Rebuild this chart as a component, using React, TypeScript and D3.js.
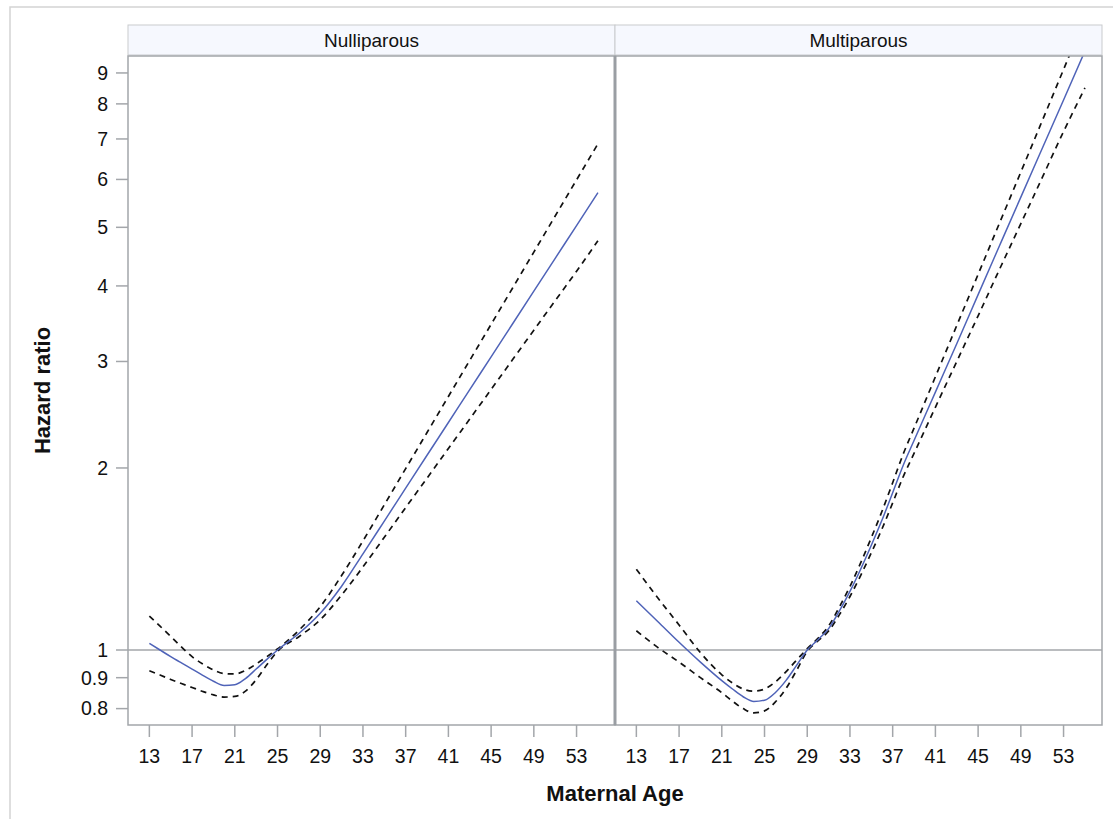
import React from 'react';
import * as d3 from 'd3';

// Nulliparous panel
const nulliAge = [13, 14, 15, 16, 17, 18, 19, 20, 21, 22, 23, 24, 25, 27, 29, 31, 33, 35, 37, 39, 41, 43, 45, 47, 49, 51, 53, 55];
const nulliHR = [1.026, 1.0, 0.975, 0.952, 0.93, 0.908, 0.888, 0.874, 0.876, 0.897, 0.93, 0.965, 1.0, 1.065, 1.15, 1.275, 1.442, 1.634, 1.852, 2.099, 2.378, 2.695, 3.053, 3.46, 3.921, 4.443, 5.034, 5.705];
const nulliUpper = [1.138, 1.095, 1.053, 1.012, 0.975, 0.948, 0.927, 0.914, 0.913, 0.925, 0.948, 0.975, 1.004, 1.078, 1.179, 1.328, 1.515, 1.738, 1.995, 2.289, 2.626, 3.013, 3.456, 3.965, 4.55, 5.22, 5.99, 6.87];
const nulliLower = [0.924, 0.909, 0.894, 0.88, 0.867, 0.854, 0.843, 0.836, 0.838, 0.855, 0.893, 0.945, 0.995, 1.052, 1.122, 1.233, 1.372, 1.536, 1.72, 1.924, 2.154, 2.41, 2.697, 3.019, 3.38, 3.781, 4.23, 4.75];

// Multiparous panel
const multiAge = [13, 15, 17, 19, 21, 22, 23, 24, 25, 26, 27, 28, 29, 30, 31, 32, 33, 34, 35, 36, 37, 38, 39, 41, 43, 45, 47, 49, 51, 53, 55];
const multiHR = [1.206, 1.115, 1.03, 0.955, 0.89, 0.862, 0.837, 0.822, 0.826, 0.85, 0.89, 0.943, 1.0, 1.04, 1.085, 1.16, 1.25, 1.36, 1.49, 1.64, 1.82, 2.023, 2.22, 2.67, 3.21, 3.87, 4.66, 5.61, 6.75, 8.12, 9.78];
const multiUpper = [1.36, 1.22, 1.1, 0.99, 0.91, 0.882, 0.862, 0.855, 0.862, 0.885, 0.92, 0.962, 1.005, 1.045, 1.096, 1.177, 1.274, 1.393, 1.534, 1.696, 1.891, 2.112, 2.327, 2.83, 3.44, 4.18, 5.08, 6.17, 7.5, 9.12, 11.1];
const multiLower = [1.076, 1.01, 0.955, 0.9, 0.85, 0.823, 0.8, 0.787, 0.793, 0.82, 0.863, 0.925, 0.995, 1.035, 1.075, 1.143, 1.226, 1.328, 1.448, 1.586, 1.751, 1.937, 2.114, 2.52, 3.0, 3.57, 4.26, 5.07, 6.04, 7.2, 8.5];

const xTicks = [13, 17, 21, 25, 29, 33, 37, 41, 45, 49, 53];
const yTicks = [0.8, 0.9, 1, 2, 3, 4, 5, 6, 7, 8, 9];
const panelNames = ['Nulliparous', 'Multiparous'];

const FONT = "'Liberation Sans', Arial, sans-serif";
const AXIS = '#a3a6aa';

const top = 56, bottom = 725, left = 128, panelW = 487;
const headerTop = 25;

export default function App() {
  const x = d3.scaleLinear().domain([11, 56.6]).range([0, panelW]);
  const y = d3.scaleLog().domain([0.7516, 9.6]).range([bottom, top]);

  const panels = [
    { name: panelNames[0], age: nulliAge, hr: nulliHR, lo: nulliLower, hi: nulliUpper },
    { name: panelNames[1], age: multiAge, hr: multiHR, lo: multiLower, hi: multiUpper },
  ];

  const mk = (age: number[], v: number[]) =>
    d3.line<number>()
      .x((_, i) => x(age[i]))
      .y(d => y(d))
      .curve(d3.curveMonotoneX)(v) || '';

  return (
    <div style={{ position: 'absolute', left: 0, top: 0 }}>
      <svg width={1113} height={819} style={{ display: 'block', fontFamily: FONT }}>
        <rect x={0} y={0} width={1113} height={819} fill="#fff" />
        <rect x={10} y={7} width={1120} height={830} fill="none" stroke="#d4d4d4" strokeWidth={1.5} />
        <defs>
          {panels.map((p, k) => (
            <clipPath id={`clip${k}`} key={k}>
              <rect x={0} y={top} width={panelW} height={bottom - top} />
            </clipPath>
          ))}
        </defs>

        {panels.map((p, k) => {
          const x0 = left + k * panelW;
          return (
            <g key={p.name} transform={`translate(${x0},0)`}>
              <rect x={0} y={headerTop} width={panelW} height={top - headerTop - 1} fill="#f6f8fe" stroke="#c9cbce" strokeWidth={1} />
              <text x={panelW / 2} y={47} textAnchor="middle" fontSize={19} fill="#111">{p.name}</text>
              <line x1={0} x2={panelW} y1={y(1)} y2={y(1)} stroke={AXIS} strokeWidth={1.5} />
              <g clipPath={`url(#clip${k})`}>
                <path d={mk(p.age, p.hi)} fill="none" stroke="#111" strokeWidth={1.7} strokeDasharray="6,5" />
                <path d={mk(p.age, p.lo)} fill="none" stroke="#111" strokeWidth={1.7} strokeDasharray="6,5" />
                <path d={mk(p.age, p.hr)} fill="none" stroke="#4f63b8" strokeWidth={1.5} />
              </g>
              <rect x={0} y={top} width={panelW} height={bottom - top} fill="none" stroke={AXIS} strokeWidth={1.5} />
              {xTicks.map(t => (
                <g key={t} transform={`translate(${x(t)},${bottom})`}>
                  <line y1={0} y2={12} stroke={AXIS} strokeWidth={1.5} />
                  <text y={38} textAnchor="middle" fontSize={19.5} fill="#111">{t}</text>
                </g>
              ))}
            </g>
          );
        })}

        <line x1={left + panelW} x2={left + panelW} y1={top} y2={bottom} stroke="#9a9ea3" strokeWidth={3} />

        {yTicks.map(t => (
          <g key={t} transform={`translate(${left},${y(t)})`}>
            <line x1={-12} x2={0} stroke={AXIS} strokeWidth={1.5} />
            <text x={-20} dy="0.35em" textAnchor="end" fontSize={19.5} fill="#111">{t}</text>
          </g>
        ))}

        <text transform={`translate(50,${(top + bottom) / 2}) rotate(-90)`} textAnchor="middle" fontSize={22} fontWeight="bold" fill="#111">Hazard ratio</text>
        <text x={left + panelW} y={801} textAnchor="middle" fontSize={22} fontWeight="bold" fill="#111">Maternal Age</text>
      </svg>
    </div>
  );
}
